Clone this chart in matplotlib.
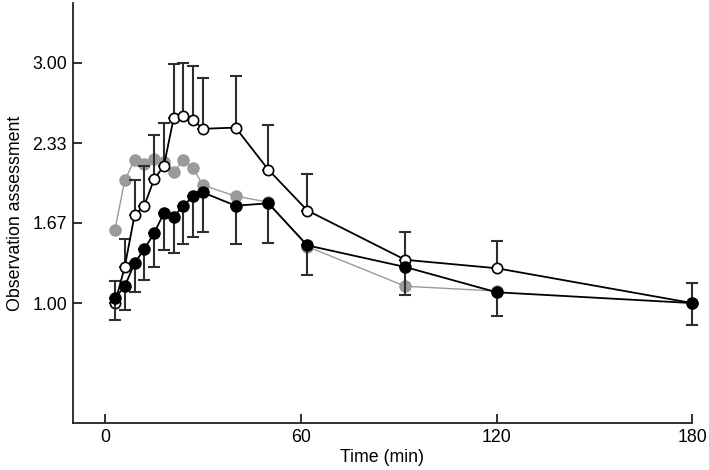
import matplotlib.pyplot as plt

plt.rcParams['font.family'] = ['Liberation Sans', 'DejaVu Sans']

# time points (min)
t_black = [3, 6, 9, 12, 15, 18, 21, 24, 27, 30, 40, 50, 62, 92, 120, 180]
black = [1.04, 1.14, 1.33, 1.45, 1.58, 1.75, 1.72, 1.81, 1.89, 1.92, 1.81, 1.83, 1.48, 1.30, 1.09, 1.00]
black_err = [0.18, 0.20, 0.24, 0.26, 0.28, 0.31, 0.30, 0.32, 0.34, 0.33, 0.32, 0.33, 0.25, 0.23, 0.20, 0.18]

t_open = [3, 6, 9, 12, 15, 18, 21, 24, 27, 30, 40, 50, 62, 92, 120, 180]
open_vals = [1.00, 1.30, 1.73, 1.81, 2.03, 2.14, 2.54, 2.56, 2.52, 2.45, 2.46, 2.11, 1.77, 1.36, 1.29, 1.00]
open_err = [0.18, 0.23, 0.29, 0.33, 0.37, 0.36, 0.45, 0.44, 0.45, 0.42, 0.43, 0.37, 0.30, 0.23, 0.23, 0.17]

t_gray = [3, 6, 9, 12, 15, 18, 21, 24, 27, 30, 40, 50, 62, 92, 120]
gray = [1.61, 2.02, 2.19, 2.16, 2.20, 2.17, 2.09, 2.19, 2.12, 1.98, 1.89, 1.84, 1.47, 1.14, 1.10]

x_ticks = [0, 60, 120, 180]
y_ticks = [1.00, 1.67, 2.33, 3.00]
y_labels = ['1.00', '1.67', '2.33', '3.00']

fig = plt.figure(figsize=(7.09, 4.70), dpi=100)
ax = fig.add_axes([0.1023, 0.0994, 0.8742, 0.8951])

# gray series (no error bars)
ax.plot(t_gray, gray, color='#9a9a9a', lw=1.0, marker='o', ms=8,
        mfc='#9a9a9a', mec='#9a9a9a', zorder=2, clip_on=False)

# open circles with upward error bars
ax.errorbar(t_open, open_vals, yerr=[[0] * len(open_err), open_err], fmt='none',
            ecolor='#2e2e2e', elinewidth=1.5, capsize=4.3, capthick=1.5, zorder=3, clip_on=False)
ax.plot(t_open, open_vals, color='black', lw=1.3, marker='o', ms=7.4,
        mfc='white', mec='black', mew=1.2, zorder=4, clip_on=False)

# filled black with downward error bars
ax.errorbar(t_black, black, yerr=[black_err, [0] * len(black_err)], fmt='none',
            ecolor='#2e2e2e', elinewidth=1.5, capsize=4.3, capthick=1.5, zorder=5, clip_on=False)
ax.plot(t_black, black, color='black', lw=1.3, marker='o', ms=8,
        mfc='black', mec='black', zorder=6, clip_on=False)

ax.set_xlim(-10, 180)
ax.set_ylim(0, 3.5)
ax.set_xticks(x_ticks)
ax.set_yticks(y_ticks)
ax.set_yticklabels(y_labels)

for s in ['top', 'right']:
    ax.spines[s].set_visible(False)
for s in ['left', 'bottom']:
    ax.spines[s].set_linewidth(1.3)
    ax.spines[s].set_color('#222222')

ax.tick_params(direction='in', length=6.5, width=1.3, color='#222222',
               labelsize=12.8, pad=4)

ax.set_xlabel('Time (min)', fontsize=12.8, labelpad=2)
ax.set_ylabel('Observation assessment', fontsize=12.8, labelpad=6)

fig.savefig('out.png', dpi=100)
